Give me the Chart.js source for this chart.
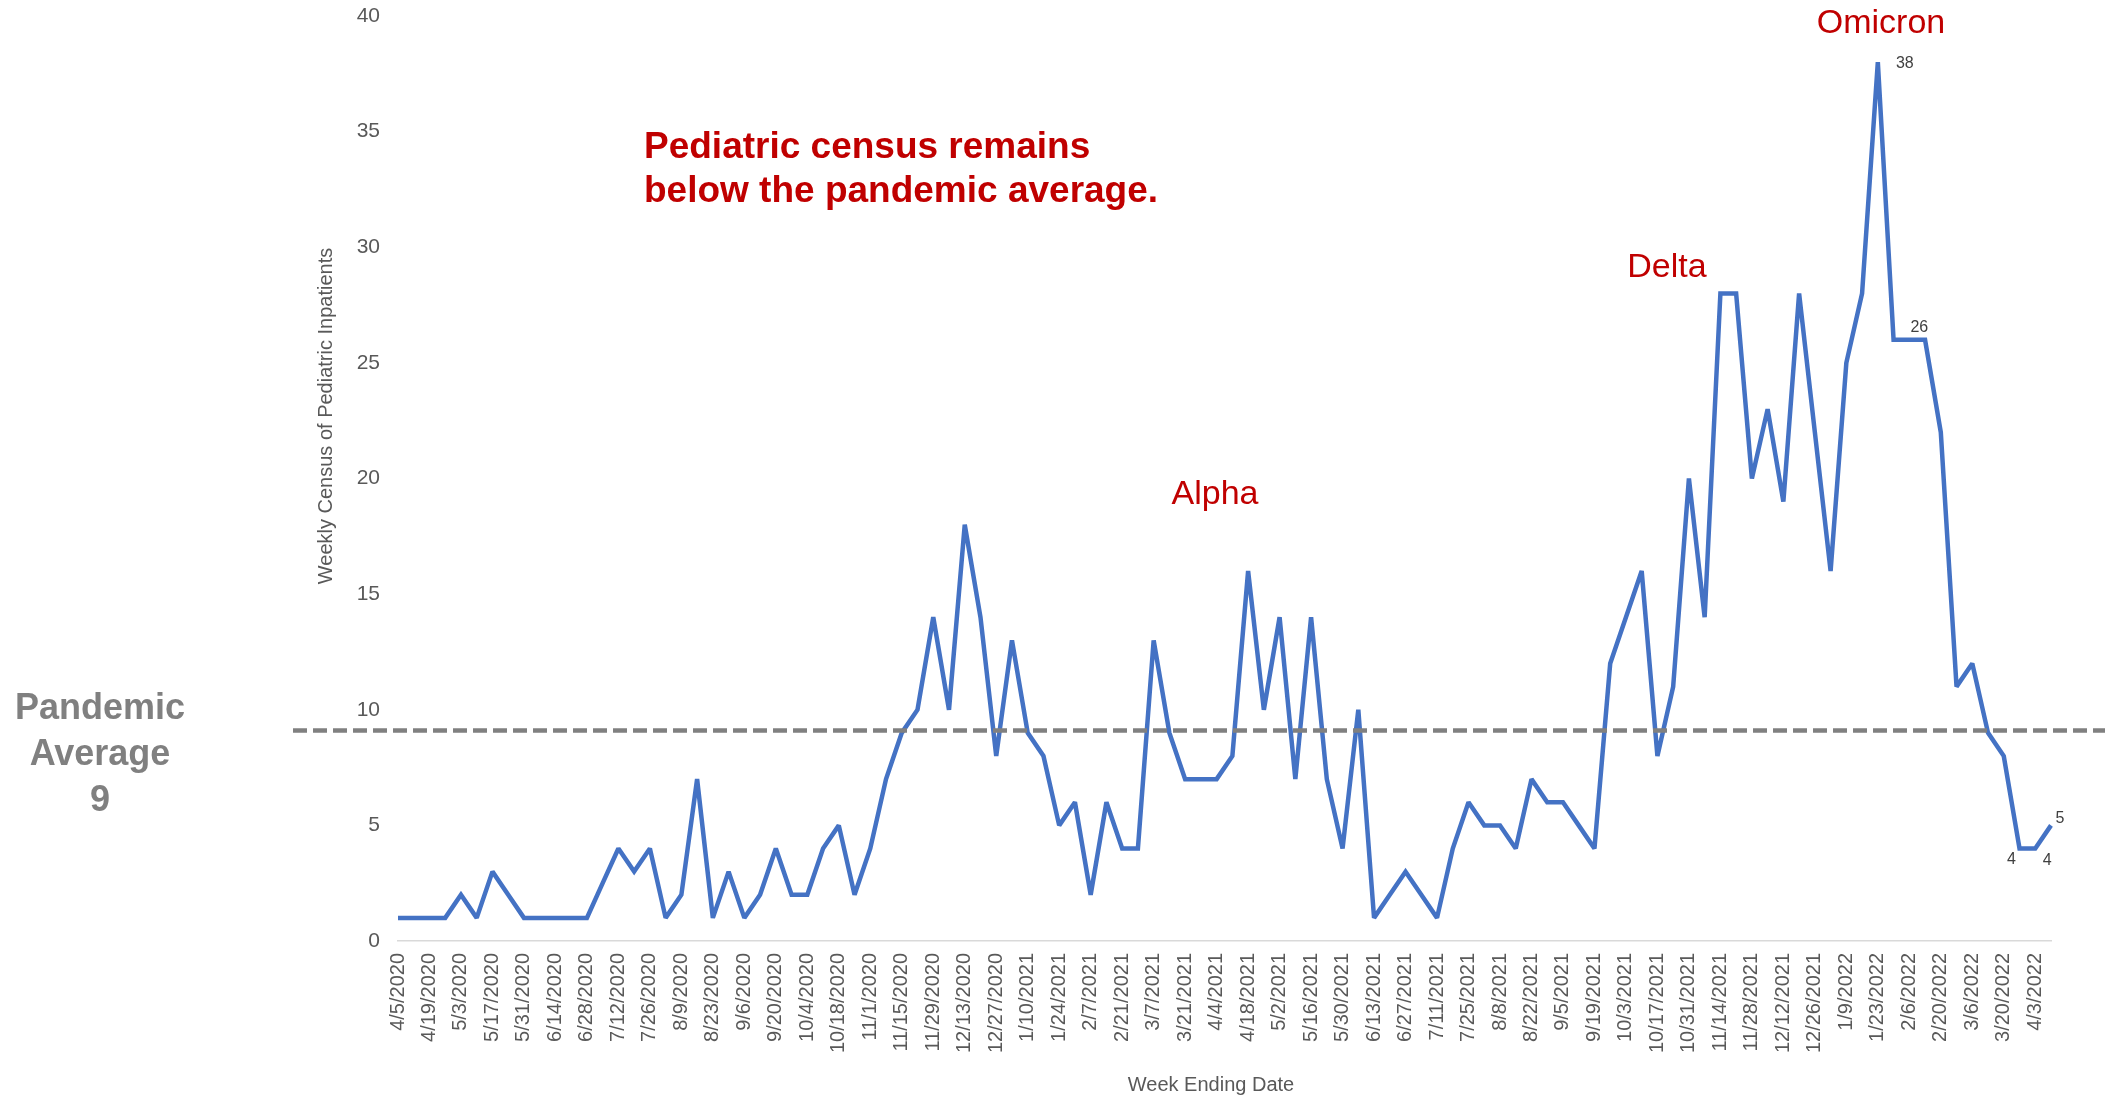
<!DOCTYPE html>
<html>
<head>
<meta charset="utf-8">
<script src="https://cdn.jsdelivr.net/npm/chart.js@4"></script>
<style>
  body { margin: 0; background: #fff; }
  #wrap { width: 2105px; height: 1098px; }
</style>
</head>
<body>
<div id="wrap"><canvas id="myChart"></canvas></div>
<script>
/* global Chart */

var weeks = [
  '4/5/2020', '4/12/2020', '4/19/2020', '4/26/2020', '5/3/2020', '5/10/2020', '5/17/2020', '5/24/2020', '5/31/2020',
  '6/7/2020', '6/14/2020', '6/21/2020', '6/28/2020', '7/5/2020', '7/12/2020', '7/19/2020', '7/26/2020',
  '8/2/2020', '8/9/2020', '8/16/2020', '8/23/2020', '8/30/2020', '9/6/2020', '9/13/2020', '9/20/2020', '9/27/2020',
  '10/4/2020', '10/11/2020', '10/18/2020', '10/25/2020', '11/1/2020', '11/8/2020', '11/15/2020', '11/22/2020', '11/29/2020',
  '12/6/2020', '12/13/2020', '12/20/2020', '12/27/2020',
  '1/3/2021', '1/10/2021', '1/17/2021', '1/24/2021', '1/31/2021', '2/7/2021', '2/14/2021', '2/21/2021', '2/28/2021',
  '3/7/2021', '3/14/2021', '3/21/2021', '3/28/2021', '4/4/2021', '4/11/2021', '4/18/2021', '4/25/2021',
  '5/2/2021', '5/9/2021', '5/16/2021', '5/23/2021', '5/30/2021', '6/6/2021', '6/13/2021', '6/20/2021', '6/27/2021',
  '7/4/2021', '7/11/2021', '7/18/2021', '7/25/2021', '8/1/2021', '8/8/2021', '8/15/2021', '8/22/2021', '8/29/2021',
  '9/5/2021', '9/12/2021', '9/19/2021', '9/26/2021', '10/3/2021', '10/10/2021', '10/17/2021', '10/24/2021', '10/31/2021',
  '11/7/2021', '11/14/2021', '11/21/2021', '11/28/2021', '12/5/2021', '12/12/2021', '12/19/2021', '12/26/2021',
  '1/2/2022', '1/9/2022', '1/16/2022', '1/23/2022', '1/30/2022', '2/6/2022', '2/13/2022', '2/20/2022', '2/27/2022',
  '3/6/2022', '3/13/2022', '3/20/2022', '3/27/2022', '4/3/2022', '4/10/2022'
];

var census = [
  1, 1, 1, 1, 2, 1, 3, 2, 1, 1,
  1, 1, 1, 2.5, 4, 3, 4, 1, 2, 7,
  1, 3, 1, 2, 4, 2, 2, 4, 5, 2,
  4, 7, 9, 10, 14, 10, 18, 14, 8, 13,
  9, 8, 5, 6, 2, 6, 4, 4, 13, 9,
  7, 7, 7, 8, 16, 10, 14, 7, 14, 7,
  4, 10, 1, 2, 3, 2, 1, 4, 6, 5,
  5, 4, 7, 6, 6, 5, 4, 12, 14, 16,
  8, 11, 20, 14, 28, 28, 20, 23, 19, 28,
  22, 16, 25, 28, 38, 26, 26, 26, 22, 11,
  12, 9, 8, 4, 4, 5
];

var yTicks = [0, 5, 10, 15, 20, 25, 30, 35, 40];

var pandemicAvg = 9.1;

// point labels: [index, dx, dy]
var pointLabels = [[94, 27, 1], [96, 10, -12], [103, -8, 11], [104, 12, 12], [105, 9, -7]];

var variants = [['Alpha', 1215, 495], ['Delta', 1667, 268], ['Omicron', 1881, 24]];

var FONT = '"Liberation Sans", Arial, sans-serif';

var extras = {
  id: 'extras',
  beforeDatasetsDraw: function(chart) {
    chart.ctx.miterLimit = 2;
  },
  afterDatasetsDraw: function(chart) {
    var ctx = chart.ctx;
    var y = chart.scales.y;
    var x = chart.scales.x;
    var yAvg = y.getPixelForValue(pandemicAvg);

    ctx.save();
    ctx.strokeStyle = '#808080';
    ctx.lineWidth = 4.5;
    ctx.setLineDash([14, 6]);
    ctx.beginPath();
    ctx.moveTo(293, yAvg);
    ctx.lineTo(2105, yAvg);
    ctx.stroke();
    ctx.setLineDash([]);

    // values on selected points
    ctx.fillStyle = '#404040';
    ctx.font = '16px ' + FONT;
    ctx.textAlign = 'center';
    ctx.textBaseline = 'middle';
    pointLabels.forEach(function(p) {
      var i = p[0];
      ctx.fillText(String(census[i]), x.getPixelForValue(i) + p[1], y.getPixelForValue(census[i]) + p[2]);
    });

    // variant names
    ctx.fillStyle = '#C00000';
    ctx.font = '34px ' + FONT;
    variants.forEach(function(v) {
      ctx.fillText(v[0], v[1], v[2]);
    });

    // headline
    ctx.font = 'bold 37px ' + FONT;
    ctx.textAlign = 'left';
    ctx.fillText('Pediatric census remains', 644, 148);
    ctx.fillText('below the pandemic average.', 644, 192);

    // pandemic average note
    ctx.fillStyle = '#808080';
    ctx.font = 'bold 36px ' + FONT;
    ctx.textAlign = 'center';
    ctx.fillText('Pandemic', 100, 709);
    ctx.fillText('Average', 100, 755);
    ctx.fillText('9', 100, 801);

    // axis titles
    ctx.fillStyle = '#595959';
    ctx.font = '20px ' + FONT;
    ctx.fillText('Week Ending Date', 1211, 1085);

    ctx.translate(326, 416);
    ctx.rotate(-Math.PI / 2);
    ctx.font = '20px ' + FONT;
    ctx.fillText('Weekly Census of Pediatric Inpatients', 0, 0);
    ctx.restore();
  }
};

var chart1 = document.getElementById('myChart').getContext('2d');

new Chart(chart1, {
  type: 'line',
  data: {
    labels: weeks,
    datasets: [{
      label: 'Weekly Census',
      data: census,
      borderColor: '#4472C4',
      backgroundColor: '#4472C4',
      borderWidth: 4.5,
      pointRadius: 0,
      tension: 0,
      fill: false
    }]
  },
  options: {
    responsive: true,
    maintainAspectRatio: false,
    animation: false,
    layout: { padding: { top: 16, right: 54, left: 0, bottom: 0 } },
    plugins: {
      legend: { display: false },
      tooltip: { enabled: false }
    },
    scales: {
      x: {
        offset: false,
        grid: { display: false, drawTicks: false },
        border: { display: true, color: '#d9d9d9', width: 1.5 },
        ticks: {
          autoSkip: false,
          maxRotation: 90,
          minRotation: 90,
          padding: 12,
          color: '#595959',
          font: { family: FONT, size: 20 },
          callback: function(value, index) {
            return index % 2 === 0 ? weeks[index] : '';
          }
        },
        afterFit: function(scale) {
          scale.height = 157;
          scale.paddingTop = 0;
          scale.paddingBottom = 0;
        }
      },
      y: {
        min: 0,
        max: 40,
        grid: { display: false, drawTicks: false },
        border: { display: false },
        afterBuildTicks: function(scale) {
          scale.ticks = yTicks.map(function(v) { return { value: v }; });
        },
        ticks: {
          padding: 18,
          color: '#595959',
          font: { family: FONT, size: 21 }
        },
        afterFit: function(scale) {
          scale.width = 398;
          scale.paddingTop = 0;
          scale.paddingBottom = 0;
        }
      }
    }
  },
  plugins: [extras]
});
</script>
</body>
</html>
